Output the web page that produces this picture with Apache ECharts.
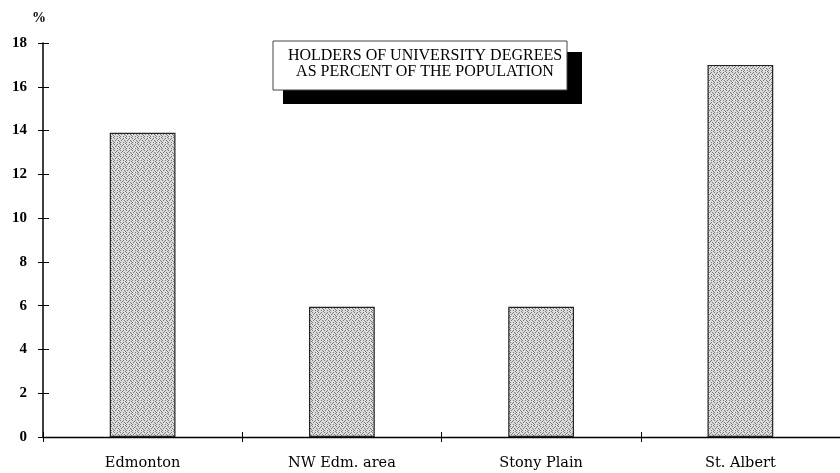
<!DOCTYPE html>
<html><head><meta charset="utf-8">
<script src="https://cdn.jsdelivr.net/npm/echarts@6/dist/echarts.min.js"></script>
<style>html,body{margin:0;padding:0;background:#fff}#c{width:840px;height:473px}</style>
</head><body><div id="c"></div>
<script>
const categories = ['Edmonton', 'NW Edm. area', 'Stony Plain', 'St. Albert'];
const values = [13.9, 5.95, 5.95, 17.0];
const yTicks = [0, 2, 4, 6, 8, 10, 12, 14, 16, 18];
const titleLines = ['HOLDERS OF UNIVERSITY DEGREES', 'AS PERCENT OF THE POPULATION'];

// stippled fill pattern
const pc = document.createElement('canvas');
pc.width = 6; pc.height = 6;
const px = pc.getContext('2d');
px.fillStyle = '#dcdcdc'; px.fillRect(0, 0, 6, 6);
px.fillStyle = '#7a7a7a';
[[0,0],[3,0],[1,2],[4,2],[0,4],[3,4],[2,1],[5,3],[5,5]].forEach(p => px.fillRect(p[0], p[1], 1, 1));

const font = '"Liberation Serif", "DejaVu Serif", serif';
const catFont = '"DejaVu Serif", "Liberation Serif", serif';
const chart = echarts.init(document.getElementById('c'));
chart.setOption({
  animation: false,
  textStyle: { fontFamily: font },
  grid: { left: 43, right: -5, top: 43, bottom: 36 },
  xAxis: [{
    type: 'category', data: categories, boundaryGap: true,
    axisLine: { lineStyle: { color: '#000', width: 1.3 } },
    axisTick: { show: true, alignWithLabel: false, length: 5, lineStyle: { color: '#000' } },
    axisLabel: { color: '#000', fontSize: 14.5, fontFamily: catFont, margin: 19 }
  }, {
    type: 'category', data: categories, position: 'bottom', boundaryGap: true,
    axisLine: { show: false },
    axisTick: { show: true, inside: true, length: 5, lineStyle: { color: '#000' } },
    axisLabel: { show: false }
  }],
  yAxis: [{
    type: 'value', min: 0, max: 18, interval: 2,
    name: '%', nameLocation: 'end', nameGap: 18,
    nameTextStyle: { color: '#000', fontSize: 14, fontWeight: 'bold', fontFamily: font, align: 'center', padding: [0, 0, 0, -8] },
    axisLine: { show: true, lineStyle: { color: '#000', width: 1.5 } },
    axisTick: { show: true, length: 5, lineStyle: { color: '#000' } },
    axisLabel: { color: '#000', fontSize: 15, fontWeight: 'bold', fontFamily: font, margin: 16,
      formatter: v => yTicks.includes(v) ? String(v) : '' },
    splitLine: { show: false }
  }, {
    type: 'value', min: 0, max: 18, interval: 2, position: 'left',
    axisLine: { show: false },
    axisTick: { show: true, inside: true, length: 6, lineStyle: { color: '#000' } },
    axisLabel: { show: false }, splitLine: { show: false }
  }],
  series: [{
    type: 'bar', data: values, barWidth: '33%',
    itemStyle: { color: { image: pc, repeat: 'repeat' }, borderColor: '#222', borderWidth: 1.2 }
  }],
  graphic: [
    { type: 'rect', shape: { x: 283, y: 52, width: 299, height: 52 }, style: { fill: '#000' }, z: 10 },
    { type: 'rect', shape: { x: 273, y: 41, width: 294, height: 49 }, style: { fill: '#fff', stroke: '#444', lineWidth: 1 }, z: 11 },
    { type: 'text', x: 425, y: 48, z: 12,
      style: { text: titleLines.join('\n'), fill: '#000', font: '16px ' + font, align: 'center', verticalAlign: 'top', lineHeight: 16 } }
  ]
});
</script></body></html>
